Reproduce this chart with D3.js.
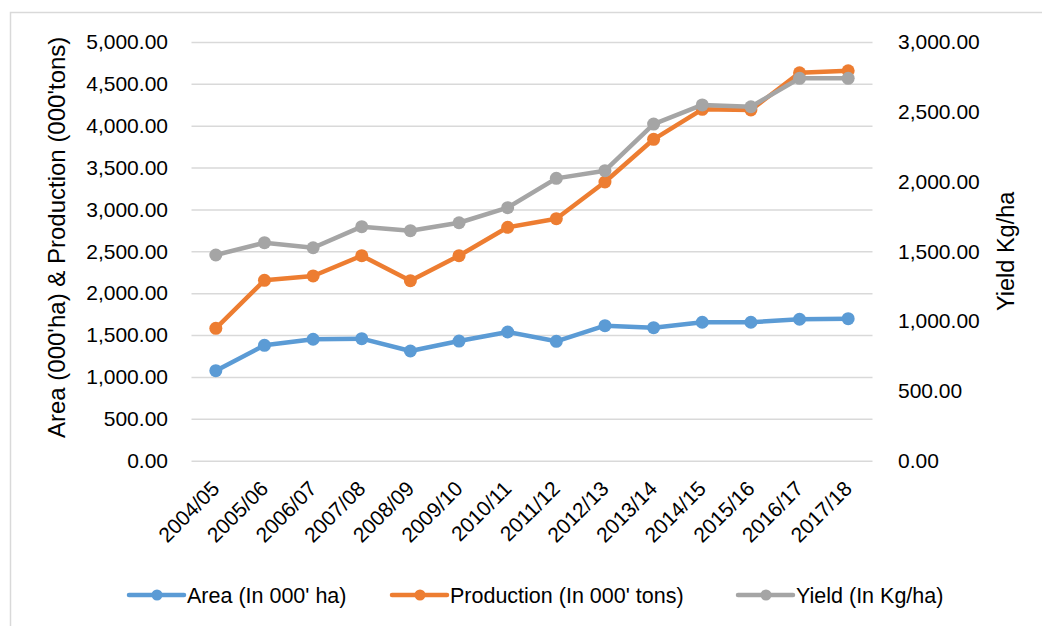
<!DOCTYPE html>
<html>
<head>
<meta charset="utf-8">
<script src="https://cdn.jsdelivr.net/npm/d3@7"></script>
<style>
  body { margin: 0; background: #fff; }
  text { font-family: "Liberation Sans", Arial, sans-serif; fill: #000; }
</style>
</head>
<body>
<svg id="chart"></svg>
<script>
(function() {

  // data
  const years = ['2004/05', '2005/06', '2006/07', '2007/08', '2008/09', '2009/10', '2010/11',
    '2011/12', '2012/13', '2013/14', '2014/15', '2015/16', '2016/17', '2017/18'];
  const area = [1075, 1378, 1450, 1457, 1310, 1429, 1537, 1426, 1612, 1588, 1653, 1653, 1689, 1696];
  const production = [1581, 2154, 2206, 2448, 2150, 2448, 2787, 2890, 3328, 3838, 4196, 4188, 4633, 4657];
  const yieldKg = [1474, 1562, 1526, 1677, 1648, 1705, 1813, 2023, 2078, 2412, 2549, 2536, 2740, 2740];
  const leftTicks = [0, 500, 1000, 1500, 2000, 2500, 3000, 3500, 4000, 4500, 5000];
  const rightTicks = [0, 500, 1000, 1500, 2000, 2500, 3000];

  const series = [
    { name: 'Area (In 000\' ha)', values: area, axis: 'left', color: '#5B9BD5' },
    { name: 'Production (In 000\' tons)', values: production, axis: 'left', color: '#ED7D31' },
    { name: 'Yield (In Kg/ha)', values: yieldKg, axis: 'right', color: '#A5A5A5' }
  ];

  const width = 1042;
  const height = 626;
  const plot = { left: 191.5, right: 872.5, top: 42, bottom: 460.7 };

  const svg = d3.select('#chart')
    .attr('width', width)
    .attr('height', height);

  svg.append('rect')
    .attr('x', 10.5).attr('y', 12.5)
    .attr('width', 1100).attr('height', 700)
    .attr('fill', '#fff')
    .attr('stroke', '#d9d9d9')
    .attr('stroke-width', 1.5);

  const x = d3.scalePoint()
    .domain(years)
    .range([plot.left, plot.right])
    .padding(0.5);

  const yLeft = d3.scaleLinear()
    .domain([0, 5000])
    .range([plot.bottom, plot.top]);

  const yRight = d3.scaleLinear()
    .domain([0, 3000])
    .range([plot.bottom, plot.top]);

  const fmt = d3.format(',.2f');

  // gridlines
  const grid = svg.append('g')
    .attr('transform', 'translate(' + plot.left + ',0)')
    .call(d3.axisLeft(yLeft).tickValues(leftTicks).tickSize(-(plot.right - plot.left)).tickFormat(''));
  grid.select('.domain').remove();
  grid.selectAll('line').attr('stroke', '#d9d9d9').attr('stroke-width', 1.5);

  // left axis labels
  const leftAxis = svg.append('g')
    .attr('transform', 'translate(' + plot.left + ',0)')
    .call(d3.axisLeft(yLeft).tickValues(leftTicks).tickSize(0).tickPadding(23.5).tickFormat(fmt));
  leftAxis.select('.domain').remove();
  leftAxis.selectAll('text')
    .style('font-size', '21px')
    .style('font-family', '"Liberation Sans", Arial, sans-serif')
    .attr('fill', '#000');

  // right axis labels
  const rightAxis = svg.append('g')
    .attr('transform', 'translate(' + plot.right + ',0)')
    .call(d3.axisRight(yRight).tickValues(rightTicks).tickSize(0).tickPadding(25.5).tickFormat(fmt));
  rightAxis.select('.domain').remove();
  rightAxis.selectAll('text')
    .style('font-size', '21px')
    .style('font-family', '"Liberation Sans", Arial, sans-serif')
    .attr('fill', '#000');

  // category labels
  svg.append('g').selectAll('text')
    .data(years)
    .enter()
    .append('text')
    .attr('text-anchor', 'end')
    .attr('transform', function(d) {
      return 'translate(' + (x(d) + 5) + ',' + 490 + ') rotate(-45)';
    })
    .style('font-size', '21px')
    .text(function(d) { return d; });

  // axis titles
  svg.append('text')
    .attr('text-anchor', 'middle')
    .attr('dominant-baseline', 'central')
    .attr('transform', 'translate(56,' + ((plot.top + plot.bottom) / 2 - 14) + ') rotate(-90)')
    .style('font-size', '24px')
    .text('Area (000\'ha) & Production (000\'tons)');

  svg.append('text')
    .attr('text-anchor', 'middle')
    .attr('dominant-baseline', 'central')
    .attr('transform', 'translate(1006,' + ((plot.top + plot.bottom) / 2) + ') rotate(-90)')
    .style('font-size', '23.5px')
    .text('Yield Kg/ha');

  // lines and markers
  const lines = svg.append('g');
  series.forEach(function(s) {
    const yScale = s.axis === 'left' ? yLeft : yRight;
    const line = d3.line()
      .x(function(d, i) { return x(years[i]); })
      .y(function(d) { return yScale(d); });

    const g = lines.append('g');
    g.append('path')
      .datum(s.values)
      .attr('d', line)
      .attr('fill', 'none')
      .attr('stroke', s.color)
      .attr('stroke-width', 4.5)
      .attr('stroke-linejoin', 'round')
      .attr('stroke-linecap', 'round');

    g.selectAll('circle')
      .data(s.values)
      .enter()
      .append('circle')
      .attr('cx', function(d, i) { return x(years[i]); })
      .attr('cy', function(d) { return yScale(d); })
      .attr('r', 6.5)
      .attr('fill', s.color);
  });

  // legend
  const legendX = [129, 392, 738];
  const legendY = 595;
  const legend = svg.append('g').selectAll('g')
    .data(series)
    .enter()
    .append('g')
    .attr('transform', function(d, i) { return 'translate(' + legendX[i] + ',' + legendY + ')'; });

  legend.append('line')
    .attr('x1', 0).attr('x2', 55)
    .attr('y1', 0).attr('y2', 0)
    .attr('stroke', function(d) { return d.color; })
    .attr('stroke-width', 4.5)
    .attr('stroke-linecap', 'round');

  legend.append('circle')
    .attr('cx', 28).attr('cy', 0)
    .attr('r', 5.5)
    .attr('fill', function(d) { return d.color; });

  legend.append('text')
    .attr('x', 58)
    .attr('y', 0)
    .attr('dy', '0.35em')
    .style('font-size', '21.5px')
    .text(function(d) { return d.name; });

})();
</script>
</body>
</html>
